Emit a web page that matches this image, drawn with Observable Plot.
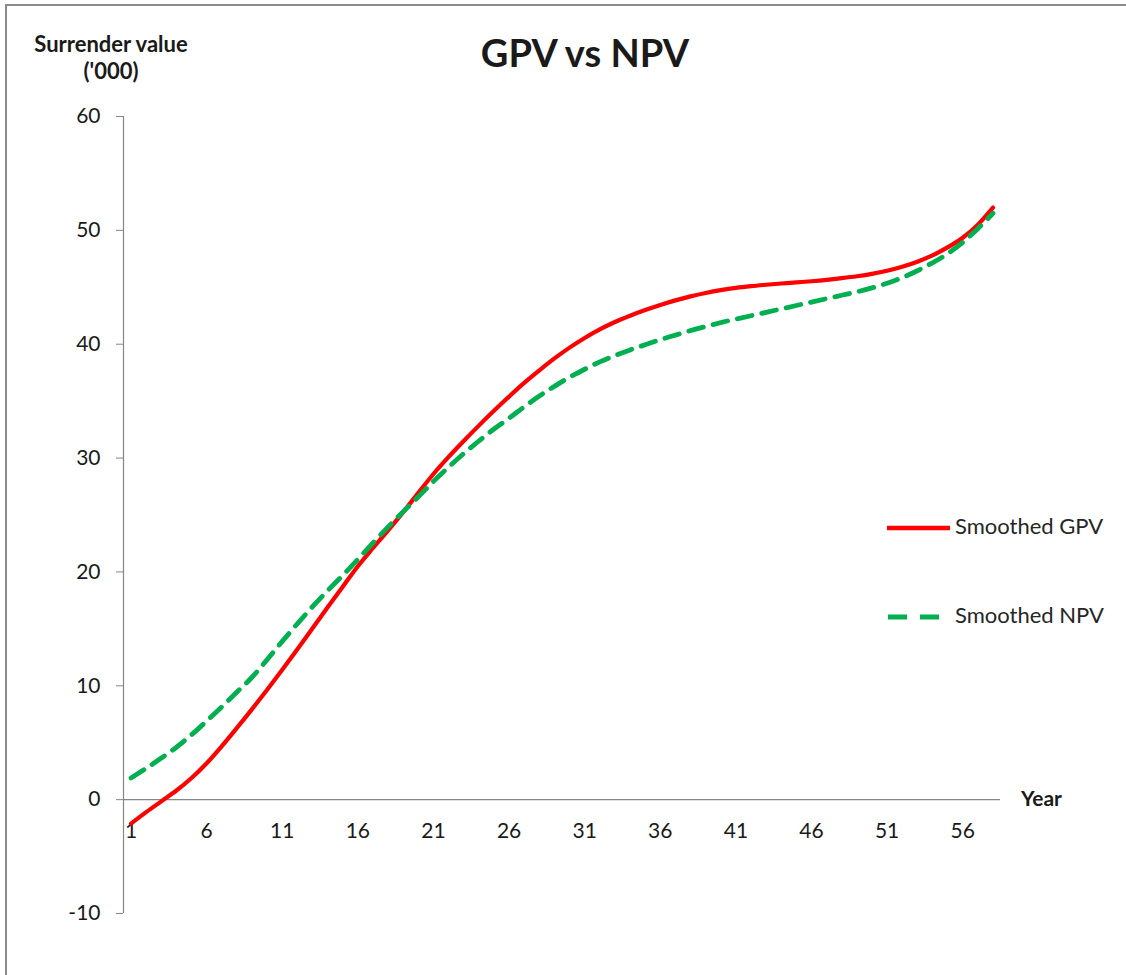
<!DOCTYPE html>
<html>
<head>
<meta charset="utf-8">
<script src="https://cdn.jsdelivr.net/npm/d3@7"></script>
<script src="https://cdn.jsdelivr.net/npm/@observablehq/plot@0.6"></script>
<style>
  body { margin: 0; background: #fff; font-family: Lato, "Open Sans", sans-serif; }
  #wrap { position: relative; width: 1126px; height: 975px; overflow: hidden; background: #fff; }
  #frame { position: absolute; left: 5px; top: 4px; width: 2000px; height: 2000px;
           border-left: 2px solid #8c8c8c; border-top: 2px solid #8c8c8c; box-sizing: border-box; }
  #chart { position: absolute; left: 0; top: 0; }
  .lbl { position: absolute; white-space: nowrap; color: #1a1a1a; }
  .bold { font-weight: 700; }
  #title { left: 385px; width: 400px; text-align: center; font-size: 38px; line-height: 45.6px; top: 30px; }
  #ylab1 { left: 11px; width: 200px; text-align: center; font-size: 22px; line-height: 26.4px; top: 31px; }
  #ylab2 { left: 11px; width: 200px; text-align: center; font-size: 22px; line-height: 26.4px; top: 58px; }
  #xlab { left: 1021px; font-size: 21px; line-height: 25.2px; top: 785px; }
  .leg { left: 955px; font-size: 22px; line-height: 26.4px; color: #262626; }
  #swatch { position: absolute; left: 0; top: 0; }
</style>
</head>
<body>
<div id="wrap">
  <div id="frame"></div>
  <div id="chart"></div>
  <div id="title" class="lbl bold">GPV vs NPV</div>
  <div id="ylab1" class="lbl bold">Surrender value</div>
  <div id="ylab2" class="lbl bold">('000)</div>
  <div id="xlab" class="lbl bold">Year</div>
  <div id="leg1" class="lbl leg" style="top:513px">Smoothed GPV</div>
  <div id="leg2" class="lbl leg" style="top:602px">Smoothed NPV</div>
  <svg id="swatch" width="1126" height="975" style="pointer-events:none">
    <line x1="887" x2="950" y1="528" y2="528" stroke="#ff0000" stroke-width="4.5"/>
    <line x1="888" x2="940" y1="617" y2="617" stroke="#00b050" stroke-width="5" stroke-dasharray="19,13"/>
  </svg>
</div>
<script>
// Categories (years)
const years = [1,2,3,4,5,6,7,8,9,10,11,12,13,14,15,16,17,18,19,20,
               21,22,23,24,25,26,27,28,29,30,31,32,33,34,35,36,37,38,39,40,
               41,42,43,44,45,46,47,48,49,50,51,52,53,54,55,56,57,58];

// Smoothed GPV ('000)
const gpv = [-2.1,-1.1,-0.15,0.8,1.9,3.2,4.7,6.3,7.95,9.65,
             11.4,13.2,15.05,16.9,18.7,20.5,22.1,23.65,25.25,26.95,
             28.6,30.1,31.5,32.85,34.15,35.4,36.6,37.7,38.75,39.7,
             40.55,41.3,41.95,42.5,43.0,43.45,43.85,44.2,44.5,44.75,
             44.95,45.1,45.22,45.33,45.43,45.53,45.65,45.8,45.97,46.18,
             46.45,46.8,47.25,47.8,48.5,49.35,50.5,52.0];

// Smoothed NPV ('000)
const npv = [1.9,2.75,3.65,4.6,5.7,6.9,8.15,9.45,10.75,12.3,
             13.9,15.45,16.95,18.35,19.7,21.1,22.55,23.95,25.3,26.6,
             27.95,29.2,30.4,31.5,32.55,33.5,34.5,35.45,36.3,37.1,
             37.8,38.45,39.0,39.5,39.95,40.4,40.8,41.2,41.55,41.9,
             42.2,42.5,42.8,43.1,43.4,43.7,44.0,44.3,44.6,44.95,
             45.35,45.85,46.45,47.15,47.95,48.95,50.15,51.5];

const xTicks = [1,6,11,16,21,26,31,36,41,46,51,56];
const yTicks = [-10,0,10,20,30,40,50,60];

const rows = years.map((y, i) => ({year: y, gpv: gpv[i], npv: npv[i]}));

const chart = Plot.plot({
  width: 1126,
  height: 975,
  marginLeft: 123,
  marginRight: 126,
  marginTop: 116,
  marginBottom: 62,
  x: {domain: [0.5, 58.5], axis: null},
  y: {domain: [-10, 60], axis: null},
  style: {fontFamily: "Lato, 'Open Sans', sans-serif", background: "transparent", overflow: "visible"},
  marks: [
    Plot.axisY({ticks: yTicks, tickSize: 7, text: null, stroke: "#868686", label: null}),
    Plot.axisY({ticks: yTicks, tickSize: 0, tickPadding: 23, fill: "#1a1a1a", fontSize: 21, label: null, tickFormat: d => String(d)}),
    Plot.ruleX([0.5], {y1: -10, y2: 60, stroke: "#868686", strokeWidth: 1.2}),
    Plot.ruleY([0], {x1: 0.5, x2: 58.5, stroke: "#868686", strokeWidth: 1.2}),
    Plot.text(xTicks, {x: d => d, y: () => 0, dy: 32, text: d => String(d), fill: "#1a1a1a", fontSize: 21}),
    Plot.line(rows, {x: "year", y: "gpv", stroke: "#ff0000", strokeWidth: 4.2, curve: "catmull-rom"}),
    Plot.line(rows, {x: "year", y: "npv", stroke: "#00b050", strokeWidth: 4.8, strokeDasharray: "15,10", curve: "catmull-rom"})
  ]
});
document.getElementById("chart").appendChild(chart);
</script>
</body>
</html>
